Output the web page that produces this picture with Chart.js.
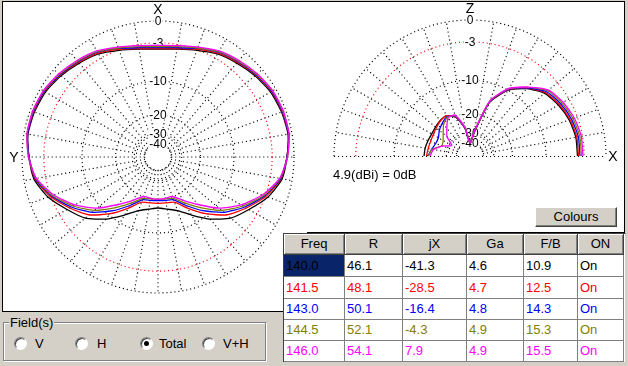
<!DOCTYPE html>
<html>
<head>
<meta charset="utf-8">
<script src="https://cdn.jsdelivr.net/npm/chart.js@4.4.1/dist/chart.umd.min.js"></script>
<style>
  body { margin: 0; width: 628px; height: 366px; background: #d4d0c8; position: relative; overflow: hidden;
         font-family: "Liberation Sans", Arial, sans-serif; font-size: 13px; color: #000; }
  .panel { position: absolute; background: #fff; border: 1px solid #000; }
  #leftPanel { left: 2px; top: 1px; width: 304px; height: 309px; }
  #rightPanel { left: 307px; top: 1px; width: 317px; height: 230px; border-left: none; }
  canvas { position: absolute; }
  #gainNote { position: absolute; left: 333px; top: 167px; }
  #colours { position: absolute; left: 535px; top: 207px; width: 82px; height: 20px; box-sizing: border-box;
             background: #d4d0c8; border: 1px solid; border-color: #fff #404040 #404040 #fff;
             box-shadow: inset -1px -1px 0 #808080; text-align: center; line-height: 18px; }
  #grid { position: absolute; left: 283px; top: 233px; width: 343px; height: 129px; background: #fff;
          border-left: 1px solid #404040; border-top: 1px solid #404040; border-right: 1px solid #d4d0c8; box-sizing: border-box; }
  .cell { position: absolute; box-sizing: border-box; border-right: 1px solid #808080; border-bottom: 1px solid #808080;
          padding-left: 2px; white-space: nowrap; overflow: hidden; }
  .head { background: #d4d0c8; border-right: 1px solid #404040; border-bottom: 1px solid #404040;
          box-shadow: inset 1px 1px 0 #fff, inset -1px -1px 0 #808080; text-align: center; padding-left: 0; }
  #group { position: absolute; left: 3px; top: 322px; width: 263px; height: 39px; box-sizing: border-box;
           border: 1px solid #808080; box-shadow: inset 1px 1px 0 #fff, 1px 1px 0 #fff; }
  #groupLabel { position: absolute; left: 9px; top: 315px; background: #d4d0c8; padding: 0 1px; line-height: 15px; }
  .radio { position: absolute; width: 13px; height: 13px; box-sizing: border-box; border-radius: 50%; background: #fff;
           border: 1px solid; border-color: #808080 #fff #fff #808080; box-shadow: inset 1px 1px 0 #404040; }
  .radio.on::after { content: ""; position: absolute; left: 3px; top: 3px; width: 5px; height: 5px; border-radius: 50%; background: #000; }
  .rlabel { position: absolute; line-height: 15px; }
</style>
</head>
<body>
<div id="leftPanel" class="panel"></div>
<div id="rightPanel" class="panel"></div>
<canvas id="azimuth" width="304" height="309" style="left:3px;top:2px"></canvas>
<canvas id="elevation" width="317" height="230" style="left:308px;top:2px"></canvas>
<div id="gainNote">4.9(dBi) = 0dB</div>
<div id="colours">Colours</div>
<div id="grid"></div>
<div id="group"></div>
<div id="groupLabel">Field(s)</div>
<div id="radios"></div>

<script>
// frequencies (MHz) and their pattern colours
const freqs = ['140.0', '141.5', '143.0', '144.5', '146.0'];
const colours = ['#000000', '#ff0000', '#0000ff', '#808000', '#ff00ff'];

// ring levels of the polar grid (dB) and their labels
const ringDb = [0, -3, -10, -20, -30, -40];
const ringLabels = ['0', '-3', '-10', '-20', '-30', '-40'];

// azimuth pattern, bearing 0..180 deg from X (pattern is symmetric), dB
const azBearing = [0, 10, 20, 30, 40, 50, 60, 70, 80, 90, 100, 110, 120, 130, 140, 150, 160, 170, 180];
const az1400 = [-3.96, -3.72, -3.10, -2.29, -1.79, -1.24, -0.78, -0.58, -0.51, -0.91, -1.31, -2.58, -4.44, -6.16, -8.89, -12.15, -14.92, -16.17, -16.83];
const az1415 = [-3.88, -3.64, -2.95, -2.15, -1.65, -1.11, -0.64, -0.51, -0.45, -0.91, -1.45, -2.88, -4.94, -7.09, -10.44, -14.33, -17.87, -18.42, -18.49];
const az1430 = [-3.72, -3.49, -2.80, -2.01, -1.52, -1.04, -0.58, -0.45, -0.45, -0.91, -1.52, -3.10, -5.28, -7.87, -11.40, -15.23, -18.79, -19.37, -19.48];
const az1445 = [-3.56, -3.33, -2.73, -1.93, -1.45, -0.97, -0.51, -0.38, -0.38, -0.84, -1.59, -3.26, -5.62, -8.48, -12.41, -16.17, -19.37, -19.96, -20.04];
const az1460 = [-3.38, -3.18, -2.58, -1.79, -1.31, -0.84, -0.45, -0.32, -0.38, -0.84, -1.65, -3.49, -5.98, -9.21, -13.48, -17.17, -20.16, -20.16, -20.04];

// elevation pattern, angle 0..180 deg from X towards Z and back, dB
const elAngle = [0, 10, 20, 30, 40, 50, 60, 70, 80, 90, 100, 110, 120, 130, 140, 150, 160, 170, 180];
const el1400 = [-4.04, -4.04, -4.36, -4.94, -5.71, -7.47, -9.99, -14.92, -29.77, -40.29, -27.12, -20.58, -18.42, -18.49, -18.98, -19.29, -19.09, -18.79, -18.60];
const el1415 = [-3.88, -3.88, -4.20, -4.77, -5.54, -7.37, -9.87, -14.77, -29.77, -40.29, -27.12, -20.37, -18.42, -18.60, -19.37, -19.96, -20.16, -19.96, -19.56];
const el1430 = [-3.64, -3.64, -3.96, -4.52, -5.28, -7.28, -9.76, -14.63, -29.41, -40.29, -27.12, -20.16, -18.79, -19.76, -21.00, -22.57, -22.57, -21.43, -20.16];
const el1445 = [-3.41, -3.41, -3.72, -4.28, -5.02, -7.18, -9.65, -14.48, -29.07, -40.29, -26.82, -19.96, -18.98, -20.58, -23.29, -25.37, -25.94, -21.66, -20.29];
const el1460 = [-3.18, -3.18, -3.49, -4.04, -4.85, -7.09, -9.54, -14.33, -28.73, -40.29, -26.52, -19.56, -19.37, -22.81, -25.94, -32.06, -26.52, -22.34, -21.00];

// table
const tableHeads = ['Freq', 'R', 'jX', 'Ga', 'F/B', 'ON'];
const tableR = ['46.1', '48.1', '50.1', '52.1', '54.1'];
const tableJX = ['-41.3', '-28.5', '-16.4', '-4.3', '7.9'];
const tableGa = ['4.6', '4.7', '4.8', '4.9', '4.9'];
const tableFB = ['10.9', '12.5', '14.3', '15.3', '15.5'];
const tableOn = ['On', 'On', 'On', 'On', 'On'];

const radioLabels = ['V', 'H', 'Total', 'V+H'];
const radioChecked = 2;

const RING_PX = 136;   // radius of the 0 dB ring in pixels

// ARRL log scale: 0.89 per 2 dB
function arrl(db) {
    return Math.pow(0.89, -db / 2);
}

function azimuthPoints(db) {
    const pts = [];
    const toPt = (b, v) => {
        const r = arrl(v), a = b * Math.PI / 180;
        return { x: -r * Math.sin(a), y: r * Math.cos(a) };
    };
    for (let i = 0; i < azBearing.length; i++) pts.push(toPt(azBearing[i], db[i]));
    for (let i = azBearing.length - 2; i >= 0; i--) pts.push(toPt(360 - azBearing[i], db[i]));
    return pts;
}

function elevationPoints(db) {
    return elAngle.map((e, i) => {
        const r = arrl(db[i]), a = e * Math.PI / 180;
        return { x: r * Math.cos(a), y: r * Math.sin(a) };
    });
}

// dotted polar grid drawn from the chart's own scales
const polarGrid = {
    id: 'polarGrid',
    beforeDatasetsDraw(chart, args, opts) {
        const { ctx, scales: { x, y } } = chart;
        const cx = x.getPixelForValue(0), cy = y.getPixelForValue(0);
        const R = x.getPixelForValue(1) - cx;
        const rIn = arrl(-40) * R;
        ctx.save();
        ctx.lineWidth = 1.15;
        ctx.setLineDash([1.1, 2.9]);
        ctx.strokeStyle = '#000';

        // spokes every 10 deg
        for (let a = 10; a < 360; a += 10) {
            if (opts.half && (a >= 180 || a === 90)) continue;
            const t = a * Math.PI / 180;
            let dx, dy;
            if (opts.half) { dx = Math.cos(t); dy = -Math.sin(t); }
            else { dx = -Math.sin(t); dy = -Math.cos(t); }
            ctx.beginPath();
            ctx.moveTo(cx + dx * rIn, cy + dy * rIn);
            ctx.lineTo(cx + dx * R, cy + dy * R);
            ctx.stroke();
        }
        if (opts.half) {
            ctx.beginPath();
            ctx.moveTo(cx - R, cy + 0.5);
            ctx.lineTo(cx + R, cy + 0.5);
            ctx.stroke();
        }

        // rings
        ringDb.forEach(db => {
            ctx.strokeStyle = db === -3 ? '#ff0000' : '#000';
            ctx.beginPath();
            if (opts.half) ctx.arc(cx, cy, arrl(db) * R, Math.PI, 2 * Math.PI);
            else ctx.arc(cx, cy, arrl(db) * R, 0, 2 * Math.PI);
            ctx.stroke();
        });

        // ring labels
        ctx.setLineDash([]);
        ctx.font = '12px "Liberation Sans"';
        ctx.textAlign = 'center';
        ctx.textBaseline = 'middle';
        ringDb.forEach((db, i) => {
            const yy = cy - arrl(db) * R;
            const w = ctx.measureText(ringLabels[i]).width;
            ctx.fillStyle = '#fff';
            ctx.fillRect(cx - w / 2 - 1, yy - 5, w + 2, 10);
            ctx.fillStyle = '#000';
            ctx.fillText(ringLabels[i], cx, yy + 1);
        });

        // axis letters
        ctx.font = '14px "Liberation Sans"';
        ctx.fillText(opts.top, cx, cy - R - 11);
        if (opts.half) ctx.fillText(opts.side, cx + R + 7, cy + 1);
        else ctx.fillText(opts.side, cx - R - 8, cy + 1);
        ctx.restore();
    }
};

function makePolar(id, series, cxPx, cyPx, opts) {
    const cv = document.getElementById(id);
    const W = cv.width, H = cv.height;
    return new Chart(cv, {
        type: 'scatter',
        data: {
            datasets: series.map((pts, i) => ({
                label: freqs[i],
                data: pts,
                showLine: true,
                borderColor: colours[i],
                backgroundColor: colours[i],
                borderWidth: 1.3,
                pointRadius: 0,
                tension: 0.2,
                order: series.length - 1 - i
            }))
        },
        options: {
            responsive: false,
            animation: false,
            devicePixelRatio: 1,
            layout: { padding: 0 },
            scales: {
                x: { type: 'linear', display: false, min: -cxPx / RING_PX, max: (W - cxPx) / RING_PX },
                y: { type: 'linear', display: false, min: -(H - cyPx) / RING_PX, max: cyPx / RING_PX }
            },
            plugins: {
                legend: { display: false },
                tooltip: { enabled: false },
                polarGrid: opts
            }
        },
        plugins: [polarGrid]
    });
}

makePolar('azimuth', [az1400, az1415, az1430, az1445, az1460].map(azimuthPoints), 155, 155,
    { half: false, top: 'X', side: 'Y' });
makePolar('elevation', [el1400, el1415, el1430, el1445, el1460].map(elevationPoints), 162, 154,
    { half: true, top: 'Z', side: 'X' });

// table
const grid = document.getElementById('grid');
const colX = [284, 345, 403, 467, 524, 578];
const colW = [61, 58, 64, 57, 54, 46];
const rowY = [234, 255, 277, 299, 320, 341];
const rowH = [21, 22, 22, 21, 21, 21];

function addCell(text, c, r, cls, color) {
    const d = document.createElement('div');
    d.className = 'cell' + (cls ? ' ' + cls : '');
    d.textContent = text;
    d.style.left = (colX[c] - 283 - 1) + 'px';
    d.style.top = (rowY[r] - 233 - 1) + 'px';
    d.style.width = colW[c] + 'px';
    d.style.height = rowH[r] + 'px';
    d.style.lineHeight = (rowH[r] - 1) + 'px';
    if (color) d.style.color = color;
    grid.appendChild(d);
    return d;
}

tableHeads.forEach((h, c) => addCell(h, c, 0, 'head'));
freqs.forEach((f, i) => {
    const row = [f, tableR[i], tableJX[i], tableGa[i], tableFB[i], tableOn[i]];
    row.forEach((v, c) => {
        const d = addCell(v, c, i + 1, '', colours[i]);
        if (i === 0 && c === 0) {
            d.style.background = '#0a246a';
            d.style.color = '#000000';
        }
    });
});

// Field(s) radio buttons
const radioX = [14, 75, 140, 202];
const labelX = [35, 97, 159, 223];
const radios = document.getElementById('radios');
radioLabels.forEach((t, i) => {
    const b = document.createElement('div');
    b.className = 'radio' + (i === radioChecked ? ' on' : '');
    b.style.left = radioX[i] + 'px';
    b.style.top = '337px';
    radios.appendChild(b);
    const l = document.createElement('div');
    l.className = 'rlabel';
    l.textContent = t;
    l.style.left = labelX[i] + 'px';
    l.style.top = '336px';
    radios.appendChild(l);
});
</script>
</body>
</html>
